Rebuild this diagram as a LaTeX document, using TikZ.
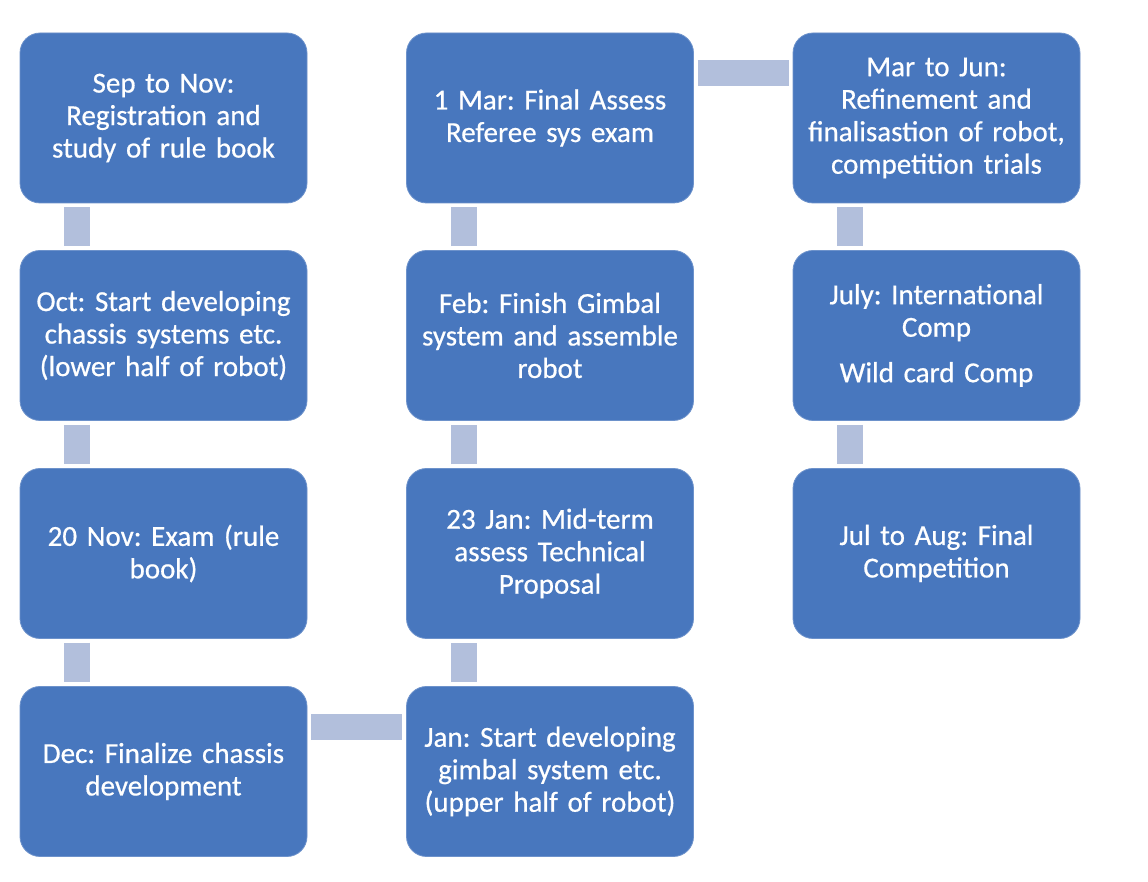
\documentclass[tikz,border=0pt]{standalone}
\usepackage{fontspec}
\setmainfont{Carlito}
\newfontfamily\cardfont{Carlito}[FakeBold=0.6]
\definecolor{boxc}{HTML}{4877BE}
\definecolor{barc}{HTML}{B2BFDC}
\begin{document}
\frenchspacing
\begin{tikzpicture}[x=1pt,y=1pt,
  card/.style={fill=boxc, draw=boxc!80!white, line width=0.8pt, rounded corners=20pt,
    minimum width=287pt, minimum height=170pt, text width=282pt, align=center,
    text=white, font=\cardfont\fontsize{29}{32.5}\selectfont, inner sep=0pt},
  bar/.style={draw=barc, line width=26pt, shorten >=4pt, shorten <=4pt}]
\useasboundingbox (0,0) rectangle (1148,882);
\fill[white] (0,0) rectangle (1148,882);
% column 1
\node[card] (a1) at (163.5,764) {Sep to Nov:\\Registration and\\study of rule book};
\node[card] (a2) at (163.5,546.5) {Oct: Start developing\\chassis systems etc.\\(lower half of robot)};
\node[card] (a3) at (163.5,328.5) {20 Nov: Exam (rule\\book)};
\node[card] (a4) at (163.5,110.5) {Dec: Finalize chassis\\development};
% column 2
\node[card] (b1) at (550,764) {1 Mar: Final Assess\\Referee sys exam};
\node[card] (b2) at (550,546.5) {Feb: Finish Gimbal\\system and assemble\\robot};
\node[card] (b3) at (550,328.5) {23 Jan: Mid-term\\assess Technical\\Proposal};
\node[card] (b4) at (550,110.5) {Jan: Start developing\\gimbal system etc.\\(upper half of robot)};
% column 3
\node[card] (c1) at (936.5,764) {Mar to Jun:\\Refinement and\\finalisastion of robot,\\competition trials};
\node[card] (c2) at (936.5,546.5) {July: International\\Comp\\[13pt]Wild card Comp};
\node[card] (c3) at (936.5,328.5) {Jul to Aug: Final\\Competition};
% vertical connectors
\draw[bar] ([xshift=-86.5pt]a1.south) -- ([xshift=-86.5pt]a2.north);
\draw[bar] ([xshift=-86.5pt]a2.south) -- ([xshift=-86.5pt]a3.north);
\draw[bar] ([xshift=-86.5pt]a3.south) -- ([xshift=-86.5pt]a4.north);
\draw[bar] ([xshift=-86.5pt]b4.north) -- ([xshift=-86.5pt]b3.south);
\draw[bar] ([xshift=-86.5pt]b3.north) -- ([xshift=-86.5pt]b2.south);
\draw[bar] ([xshift=-86.5pt]b2.north) -- ([xshift=-86.5pt]b1.south);
\draw[bar] ([xshift=-87pt]c1.south) -- ([xshift=-87pt]c2.north);
\draw[bar] ([xshift=-87pt]c2.south) -- ([xshift=-87pt]c3.north);
% horizontal connectors
\draw[bar] ([yshift=44pt]a4.east) -- ([yshift=44pt]b4.west);
\draw[bar] ([yshift=44.5pt]b1.east) -- ([yshift=44.5pt]c1.west);
\end{tikzpicture}
\end{document}
